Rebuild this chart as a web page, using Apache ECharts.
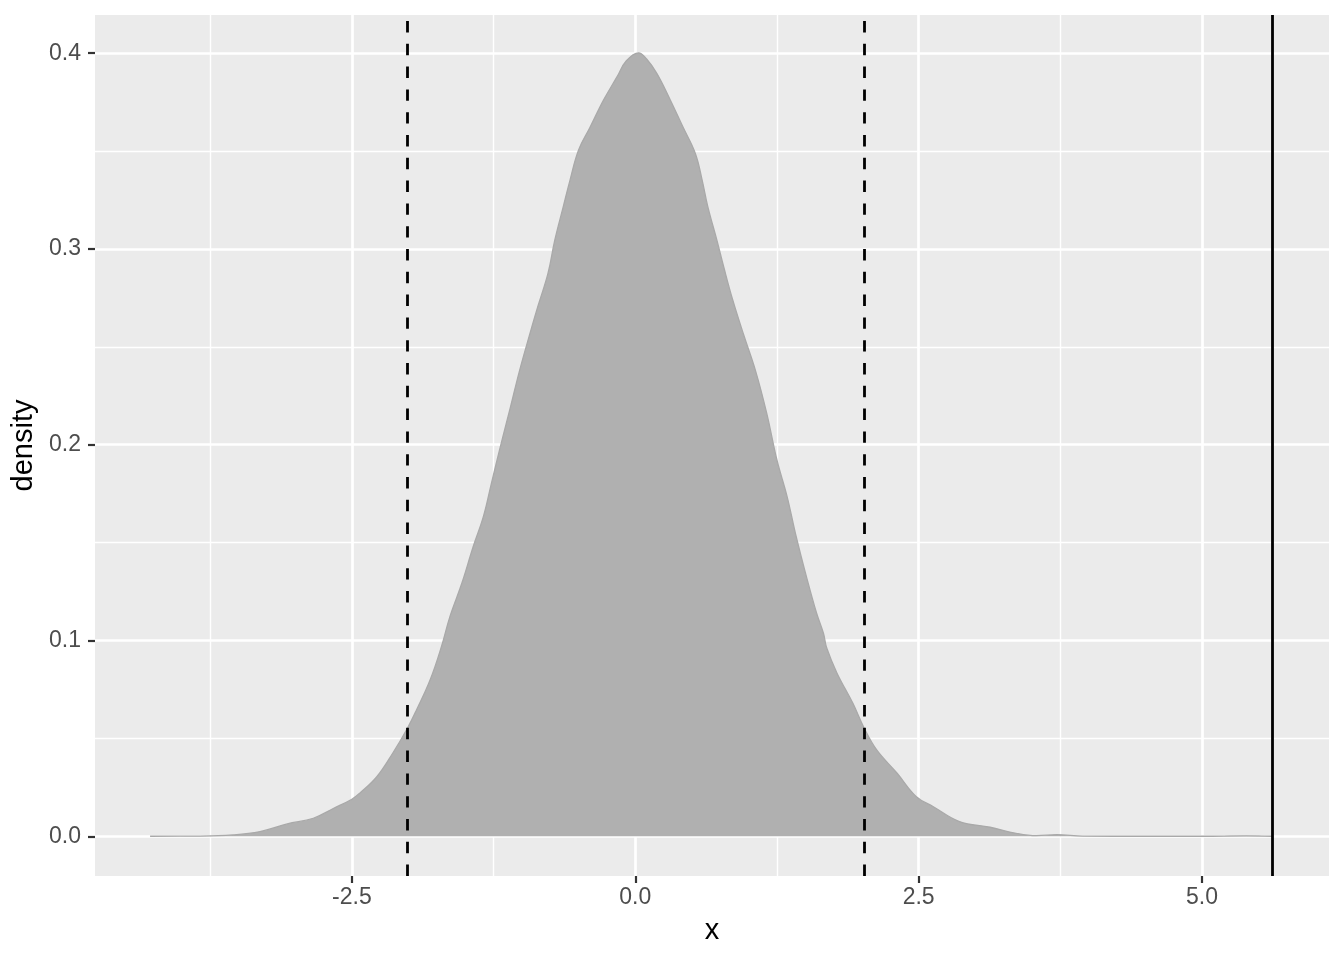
<!DOCTYPE html>
<html>
<head>
<meta charset="utf-8">
<script src="https://cdn.jsdelivr.net/npm/echarts@6/dist/echarts.min.js"></script>
<style>
html,body{margin:0;padding:0;background:#fff;}
#chart{width:1344px;height:960px;}
</style>
</head>
<body>
<div id="chart"></div>
<script>
// Density curve
const densityX = [-4.28,-3.84,-3.55,-3.31,-3.07,-2.84,-2.66,-2.50,-2.43,-2.28,-2.14,-2.01,-1.93,-1.81,-1.71,-1.635,-1.53,-1.43,-1.34,-1.27,-1.19,-1.10,-1.02,-0.92,-0.86,-0.77,-0.71,-0.635,-0.576,-0.50,-0.40,-0.28,-0.16,-0.08,0.03,0.10,0.19,0.31,0.42,0.53,0.59,0.64,0.72,0.78,0.86,0.96,1.06,1.16,1.25,1.34,1.42,1.51,1.60,1.66,1.69,1.78,1.92,2.02,2.13,2.31,2.48,2.63,2.86,3.13,3.36,3.54,3.72,3.95,4.5,5.0,5.39,5.62];
const densityY = [0,0.0001,0.0007,0.0024,0.0063,0.0092,0.0143,0.0189,0.022,0.0304,0.0424,0.0552,0.0645,0.0798,0.0968,0.1122,0.1292,0.1479,0.1632,0.180,0.199,0.2194,0.238,0.2586,0.2705,0.2875,0.3045,0.3216,0.335,0.3505,0.362,0.376,0.388,0.396,0.4002,0.397,0.3897,0.376,0.3624,0.3488,0.3352,0.3216,0.3045,0.2909,0.2739,0.2555,0.238,0.216,0.1922,0.1734,0.153,0.1326,0.1139,0.1037,0.096,0.0833,0.0679,0.0552,0.0441,0.0322,0.0202,0.0151,0.0075,0.0046,0.0015,0.0003,0.0008,0.0001,0,0,0.0002,0];

const xTicks = [-2.5, 0, 2.5, 5.0];
const xTickLabels = ['-2.5', '0.0', '2.5', '5.0'];
const xMinor = [-3.75, -1.25, 1.25, 3.75];
const yTicks = [0, 0.1, 0.2, 0.3, 0.4];
const yTickLabels = ['0.0', '0.1', '0.2', '0.3', '0.4'];
const yMinor = [0.05, 0.15, 0.25, 0.35];
const dashedLines = [-2.011, 2.017];
const solidLines = [5.623];
const xRange = [-4.766, 6.12];
const yRange = [-0.0203, 0.4195];

const densityData = densityX.map((x, i) => [x, densityY[i]]);
const lbl = (ticks, labels) => v => {
  const i = ticks.findIndex(t => Math.abs(t - v) < 1e-9);
  return i >= 0 ? labels[i] : '';
};
const gl = (key, v, w) => ({ [key]: v, lineStyle: { color: '#ffffff', width: w, type: 'solid' } });

const chart = echarts.init(document.getElementById('chart'), null, { renderer: 'canvas' });
chart.setOption({
  animation: false,
  backgroundColor: '#ffffff',
  textStyle: { fontFamily: 'Liberation Sans, Arial, sans-serif' },
  grid: { left: 95, right: 15, top: 15, bottom: 84, show: true, backgroundColor: '#EBEBEB', borderWidth: 0 },
  xAxis: {
    type: 'value', min: xRange[0], max: xRange[1],
    name: 'x', nameLocation: 'middle', nameGap: 40,
    nameTextStyle: { color: '#000000', fontSize: 29, fontFamily: 'Liberation Sans' },
    axisLine: { show: false, onZero: false },
    splitLine: { show: false },
    axisTick: { show: true, customValues: xTicks, length: 7, lineStyle: { color: '#333333', width: 2.2 } },
    axisLabel: { customValues: xTicks, formatter: lbl(xTicks, xTickLabels), color: '#4D4D4D', fontSize: 23, margin: 10, fontFamily: 'Liberation Sans' }
  },
  yAxis: {
    type: 'value', min: yRange[0], max: yRange[1],
    name: 'density', nameLocation: 'middle', nameGap: 56,
    nameTextStyle: { color: '#000000', fontSize: 29, fontFamily: 'Liberation Sans' },
    axisLine: { show: false, onZero: false },
    splitLine: { show: false },
    axisTick: { show: true, customValues: yTicks, length: 7, lineStyle: { color: '#333333', width: 2.2 } },
    axisLabel: { customValues: yTicks, formatter: lbl(yTicks, yTickLabels), color: '#4D4D4D', fontSize: 23, margin: 14, fontFamily: 'Liberation Sans' }
  },
  series: [
    {
      type: 'line', z: 1, data: [[0, 0]], showSymbol: false, symbol: 'none', silent: true,
      lineStyle: { opacity: 0 },
      markLine: {
        z: 1, silent: true, symbol: ['none', 'none'], label: { show: false },
        data: [
          ...xMinor.map(v => gl('xAxis', v, 1.4)),
          ...yMinor.map(v => gl('yAxis', v, 1.4)),
          ...xTicks.map(v => gl('xAxis', v, 2.7)),
          ...yTicks.map(v => gl('yAxis', v, 2.7))
        ]
      }
    },
    {
      type: 'line', z: 3, data: densityData, smooth: 0.4, showSymbol: false, symbol: 'none',
      lineStyle: { color: '#A9A9A9', width: 1.3 },
      areaStyle: { color: '#B0B0B0', opacity: 1 }
    },
    {
      type: 'line', z: 5, data: [[0, 0]], showSymbol: false, symbol: 'none', silent: true,
      lineStyle: { opacity: 0 },
      markLine: {
        z: 5, silent: true, symbol: ['none', 'none'], label: { show: false },
        data: [
          ...dashedLines.map(v => ({ xAxis: v, lineStyle: { color: '#000000', width: 2.8, type: [11.4, 11.4] } })),
          ...solidLines.map(v => ({ xAxis: v, lineStyle: { color: '#000000', width: 2.8, type: 'solid' } }))
        ]
      }
    }
  ]
});
</script>
</body>
</html>
